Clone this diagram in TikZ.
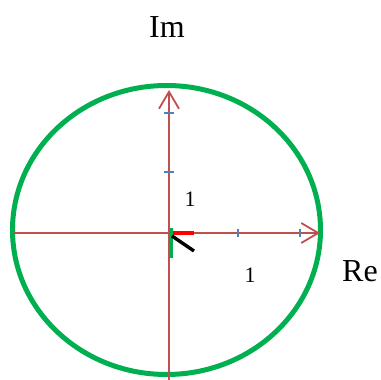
\documentclass[tikz,border=0pt]{standalone}
\usepackage{fontspec}
\setmainfont{Liberation Serif}
\usetikzlibrary{arrows.meta,positioning,calc}
\definecolor{unitgreen}{HTML}{00B050}
\definecolor{axisred}{HTML}{C0504D}
\definecolor{tickblue}{HTML}{4F81BD}

\begin{document}
\begin{tikzpicture}[
    x=1pt, y=1pt,
    axis/.style={axisred, line width=1.8pt, -{Straight Barb[length=17pt, width=20pt, line width=1.8pt]}},
    tick/.style={tickblue, line width=1.6pt},
    unitcircle/.style={unitgreen, line width=5pt},
    vec/.style={line width=3.4pt},
    axlabel/.style={font=\fontsize{32}{36}\selectfont, inner sep=0pt},
    numlabel/.style={font=\fontsize{22}{26}\selectfont, inner sep=0pt},
]
    \useasboundingbox (0,0) rectangle (381,380);

    % =====================================================================
    % UNIT CIRCLE AND AXES
    % =====================================================================
    \coordinate (origin) at (169,147);
    \draw[unitcircle] (166.5,150) ellipse [x radius=154, y radius=144.5];

    \coordinate (xstart) at (13,147);
    \coordinate (xend) at (320,147);
    \coordinate (ystart) at (169,0);
    \coordinate (yend) at (169,290);
    \draw[axis] (xstart) -- (xend);
    \draw[axis] (ystart) -- (yend);

    % ticks
    \foreach \tx in {238,300}
        \draw[tick] (\tx,143) -- (\tx,151);
    \foreach \ty in {208,267}
        \draw[tick] (164,\ty) -- (174,\ty);

    % =====================================================================
    % SHORT SEGMENTS AT THE ORIGIN
    % =====================================================================
    \coordinate (rtip) at (194,147);
    \coordinate (gtop) at (171,152);
    \coordinate (gbot) at (171,122);
    \coordinate (bstart) at (172,144);
    \coordinate (btip) at (194,129);
    \draw[vec, red] (origin) -- (rtip);
    \draw[vec, unitgreen] (gtop) -- (gbot);
    \draw[vec, black] (bstart) -- (btip);

    % labels
    \node[numlabel] (one_im) at (190,181) {1};
    \node[numlabel] (one_re) at (250,105) {1};
    \node[axlabel] (re) at (360,109) {Re};
    \node[axlabel] (im) at (167,353) {Im};

\end{tikzpicture}
\end{document}
